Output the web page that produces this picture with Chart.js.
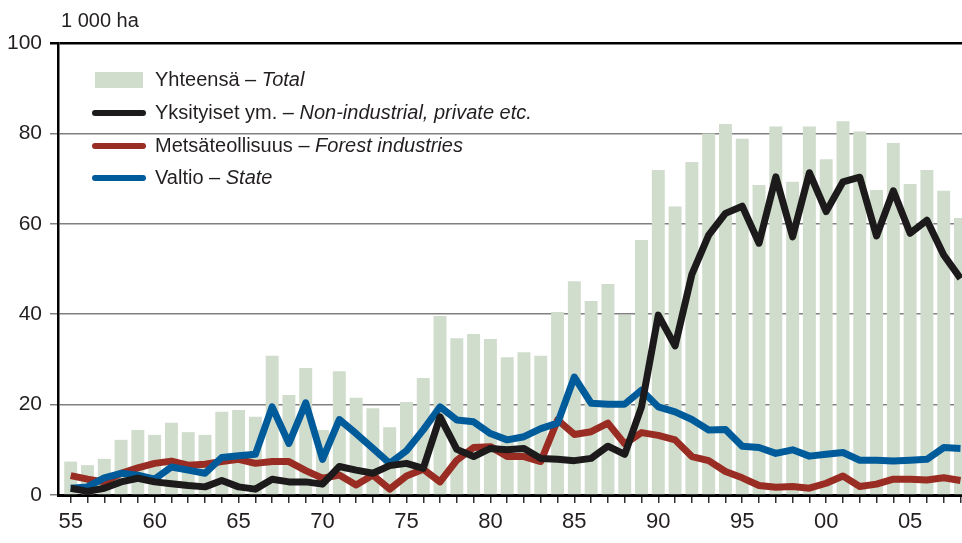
<!DOCTYPE html>
<html><head><meta charset="utf-8">
<script src="https://cdn.jsdelivr.net/npm/chart.js@4"></script>
<style>html,body{margin:0;padding:0;background:#fff}#wrap{width:962px;height:543px;position:relative}</style>
</head><body><div id="wrap"><canvas id="c" width="962" height="543"></canvas></div>
<script>
const years = [1955,1956,1957,1958,1959,1960,1961,1962,1963,1964,1965,1966,1967,1968,1969,1970,1971,1972,1973,1974,1975,1976,1977,1978,1979,1980,1981,1982,1983,1984,1985,1986,1987,1988,1989,1990,1991,1992,1993,1994,1995,1996,1997,1998,1999,2000,2001,2002,2003,2004,2005,2006,2007,2008];
const total = [7.4,6.6,8.0,12.2,14.4,13.3,16.0,13.9,13.3,18.4,18.8,17.3,30.8,22.1,28.1,14.4,27.4,21.5,19.2,15.0,20.6,25.9,39.6,34.7,35.6,34.5,30.5,31.6,30.8,40.5,47.3,42.9,46.7,39.8,56.4,71.9,63.8,73.7,80.0,82.1,78.8,68.6,81.5,69.3,81.5,74.3,82.7,80.4,67.5,77.9,68.8,71.9,67.3,61.3];
const privateEtc = [1.5,0.8,1.5,2.9,3.7,2.9,2.5,2.1,1.8,3.2,1.8,1.3,3.5,2.9,2.9,2.4,6.3,5.5,4.8,6.5,7.0,5.9,17.3,10.1,8.5,10.3,10.0,10.3,8.1,7.9,7.6,8.1,10.8,9.0,19.5,39.8,33.0,48.8,57.5,62.3,63.9,55.7,70.4,57.1,71.3,62.7,69.3,70.3,57.3,67.3,57.9,60.8,53.1,47.9];
const forestInd = [4.3,3.5,2.9,4.8,6.0,7.0,7.5,6.6,6.8,7.4,7.9,7.0,7.4,7.4,5.4,3.7,4.4,2.2,4.4,1.3,4.2,5.7,2.9,7.7,10.5,10.7,8.5,8.5,7.4,16.6,13.4,14.0,15.9,11.3,13.8,13.2,12.2,8.5,7.6,5.2,3.8,2.1,1.7,1.9,1.5,2.6,4.2,1.9,2.4,3.5,3.5,3.3,3.8,3.2];
const state = [1.5,1.8,3.8,4.8,4.4,3.5,6.2,5.5,4.8,8.3,8.7,9.0,19.5,11.4,20.4,7.9,16.7,13.6,10.3,7.0,9.8,14.4,19.5,16.6,16.2,13.6,12.2,12.9,14.7,15.9,26.1,20.3,20.1,20.1,23.2,19.5,18.4,16.7,14.4,14.5,10.8,10.5,9.2,10.0,8.6,9.0,9.4,7.7,7.7,7.5,7.7,7.9,10.5,10.3];
const yTickValues = [0,20,40,60,80,100];
const unitLabel = '1 000 ha';
const legendItems = [
  {fi:'Yhteensä – ', en:'Total', kind:'bar', color:'#d0dccc'},
  {fi:'Yksityiset ym. – ', en:'Non-industrial, private etc.', kind:'line', color:'#1c1a1b'},
  {fi:'Metsäteollisuus – ', en:'Forest industries', kind:'line', color:'#9a2d23'},
  {fi:'Valtio – ', en:'State', kind:'line', color:'#005b9b'}
];

const FONT = "'Liberation Sans Narrow','Arial Narrow','Liberation Sans',Arial,sans-serif";
Chart.defaults.font.family = FONT;
Chart.defaults.color = '#231f20';

const pts = arr => years.map((y,i)=>({x:y,y:arr[i]}));

const overlay = {
  id:'overlay',
  afterDraw(chart){
    const ctx = chart.ctx;
    ctx.save();
    ctx.fillStyle = '#231f20';
    ctx.textBaseline = 'middle';
    ctx.font = "20px " + FONT;
    ctx.fillText(unitLabel, 61, 21);
    const rows = [80,113,146,178];
    legendItems.forEach((it,i)=>{
      const y = rows[i];
      if(it.kind==='bar'){
        ctx.fillStyle = it.color;
        ctx.fillRect(95,72,48,16);
      } else {
        ctx.strokeStyle = it.color;
        ctx.lineWidth = 6;
        ctx.lineCap = 'round';
        ctx.beginPath(); ctx.moveTo(95,y); ctx.lineTo(143,y); ctx.stroke();
      }
      ctx.fillStyle = '#231f20';
      ctx.font = "20px " + FONT;
      ctx.fillText(it.fi, 155, y);
      const w = ctx.measureText(it.fi).width;
      ctx.font = "italic 20px " + FONT;
      ctx.fillText(it.en, 155 + w, y);
    });
    ctx.restore();
  }
};

new Chart(document.getElementById('c'), {
  data:{
    datasets:[
      {type:'line', label:'Yksityiset ym.', data:pts(privateEtc), borderColor:'#1c1a1b', borderWidth:7, pointRadius:0, tension:0, borderJoinStyle:'round', order:1},
      {type:'line', label:'Valtio', data:pts(state), borderColor:'#005b9b', borderWidth:7, pointRadius:0, tension:0, borderJoinStyle:'round', order:2},
      {type:'line', label:'Metsäteollisuus', data:pts(forestInd), borderColor:'#9a2d23', borderWidth:7, pointRadius:0, tension:0, borderJoinStyle:'round', order:3},
      {type:'bar', label:'Yhteensä', data:pts(total), backgroundColor:'#d0dccc', borderWidth:0, barPercentage:0.77, categoryPercentage:1.0, order:10}
    ]
  },
  options:{
    responsive:false, animation:false, devicePixelRatio:1,
    layout:{padding:{top:43,left:0,right:0,bottom:0}},
    plugins:{legend:{display:false}, tooltip:{enabled:false}},
    scales:{
      x:{
        type:'linear', offset:false, min:1954.244, max:2008.09,
        afterBuildTicks(scale){ scale.ticks = years.map(v=>({value:v})); },
        afterFit(scale){ scale.height = 48; scale.paddingLeft = 0; scale.paddingRight = 0; },
        ticks:{autoSkip:false, maxRotation:0, padding:6, font:{size:22},
          callback:(v)=> (v%5===0) ? String(v%100).padStart(2,'0') : ''},
        grid:{offset:false, drawOnChartArea:false, drawTicks:true, tickLength:8, color:'#333', lineWidth:1.5},
        border:{display:true, color:'#000', width:3}
      },
      y:{
        min:0, max:100,
        afterBuildTicks(scale){ scale.ticks = yTickValues.map(v=>({value:v})); },
        afterFit(scale){ scale.width = 58; },
        ticks:{padding:8, font:{size:21}},
        grid:{color:(c)=> (c.tick && c.tick.value===100) ? '#000' : '#808080',
              lineWidth:(c)=> (c.tick && c.tick.value===100) ? 2.5 : 1.5,
              tickLength:8},
        border:{display:true, color:'#000', width:2.5}
      }
    }
  },
  plugins:[overlay]
});
</script></body></html>
